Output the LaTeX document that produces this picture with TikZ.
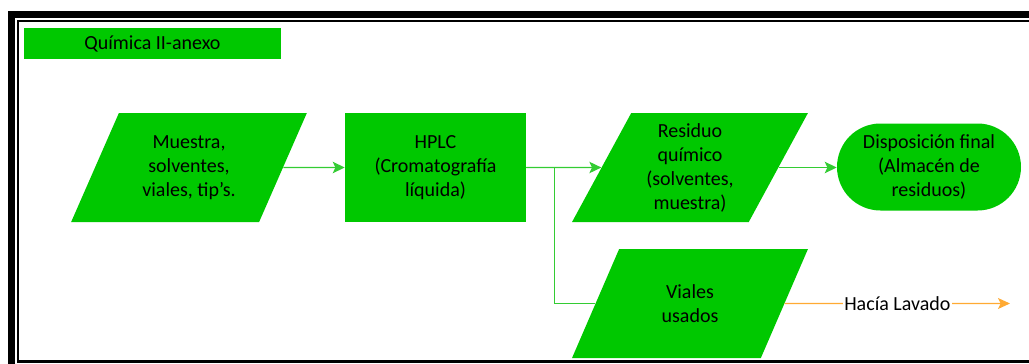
\documentclass[tikz,border=0pt]{standalone}
\usepackage{fontspec}
\setmainfont{Carlito}
\usetikzlibrary{shapes.geometric,arrows.meta}
\definecolor{boxgreen}{HTML}{00C800}
\definecolor{linkgreen}{HTML}{33CC33}
\definecolor{washorange}{HTML}{FFAA33}
\tikzset{
  base/.style={fill=boxgreen, draw=none, text=black, align=center,
    font=\fontsize{15}{18}\selectfont, inner sep=0pt},
  iobox/.style={base, trapezium, trapezium left angle=63.6,
    trapezium right angle=116.4, trapezium stretches=true,
    minimum width=177pt, minimum height=81.75pt},
  procbox/.style={base, rectangle, minimum width=135.75pt, minimum height=81.75pt},
  endbox/.style={base, rectangle, rounded corners=32.6pt,
    minimum width=138pt, minimum height=65.25pt},
  titlebox/.style={base, rectangle, minimum width=192.75pt, minimum height=23.25pt},
  flow/.style={draw=linkgreen, line width=0.9pt},
  flowarrow/.style={flow, -{Stealth[length=9pt,width=8.6pt,inset=2pt]}},
  wash/.style={draw=washorange, line width=0.9pt,
    -{Stealth[length=9pt,width=8.2pt,inset=2pt]}},
  frameouter/.style={draw=black, line width=5.25pt, line join=miter},
  frameinner/.style={draw=black, line width=1.9pt, line join=miter}
}
\begin{document}
\begin{tikzpicture}[x=0.75pt,y=-0.75pt]
  \useasboundingbox (0,0) rectangle (1029,364);
  \clip (0,0) rectangle (1029,364);

  % page frame: thick outer line and thin inner line
  \draw[frameouter] (11.5,420) -- (11.5,14.5) -- (1100,14.5);
  \draw[frameinner] (1100,21) -- (18,21) -- (18,361.5) -- (1100,361.5);

  % heading
  \node[titlebox] (title) at (152.5,43.5) {Química II-anexo};

  % process steps
  \node[iobox]   (muestra) at (189,167.5) {Muestra,\\solventes,\\viales, tip’s.};
  \node[procbox] (hplc)    at (435.5,167.5) {HPLC\\(Cromatografía\\líquida)};
  \node[iobox]   (residuo) at (690,167.5) {Residuo\\químico\\(solventes,\\muestra)};
  \node[endbox]  (disp)    at (929,167) {Disposición final\\(Almacén de\\residuos)};
  \node[iobox]   (viales)  at (690,303.5) {Viales\\usados};

  % connectors
  \draw[flowarrow] (muestra.east) -- (hplc.west);
  \draw[flowarrow] (hplc.east) -- (residuo.west);
  \draw[flow] (hplc.east) -- ([xshift=21pt]hplc.east) |- (viales.west);
  \draw[flowarrow] (residuo.east) -- (disp.west |- residuo.east);

  \coordinate (lavend) at (1010,303.5);
  \draw[wash] (viales.east) -- node[fill=white, inner sep=1pt,
    font=\fontsize{15}{18}\selectfont] (lavado) {Hacía Lavado} (lavend);
\end{tikzpicture}
\end{document}
